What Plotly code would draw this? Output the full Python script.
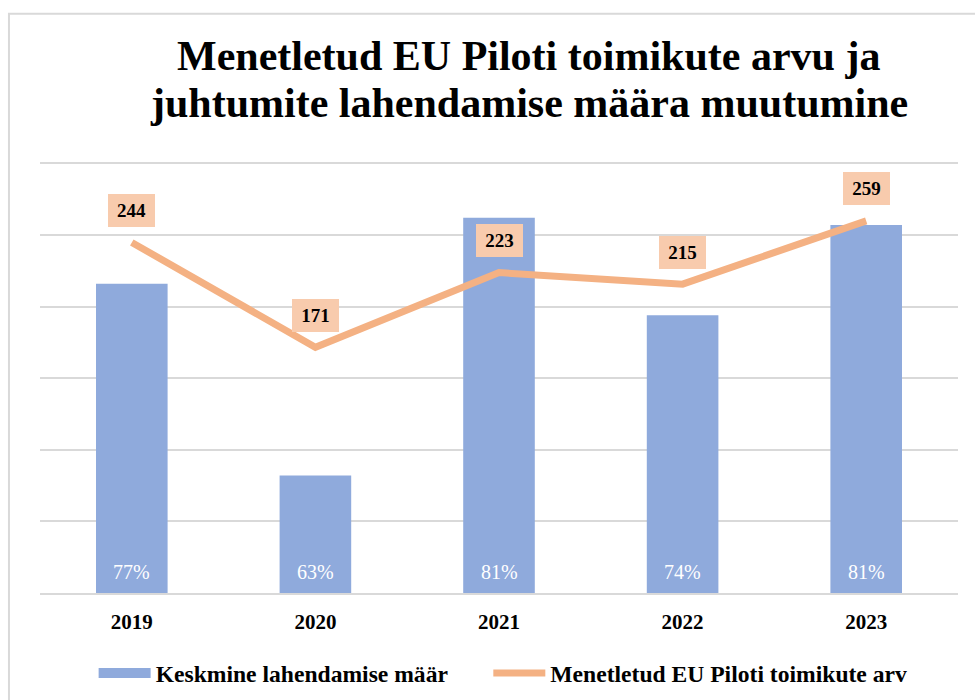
import plotly.graph_objects as go

years = ["2019", "2020", "2021", "2022", "2023"]
resolution_rate = [76.6, 63.2, 81.2, 74.4, 80.7]   # Keskmine lahendamise määr (%)
case_counts = [244, 171, 223, 215, 259]            # Menetletud EU Piloti toimikute arv
title_lines = ["Menetletud EU Piloti toimikute arvu ja",
               "juhtumite lahendamise määra muutumine"]

FONT = "Liberation Serif"
BAR_COLOR = "#8FAADC"
LINE_COLOR = "#F4B183"
LABEL_BG = "#F8CBAD"
GRID = "#D9D9D9"

fig = go.Figure()
fig.add_trace(go.Bar(
    x=years, y=resolution_rate, name="Keskmine lahendamise määr",
    marker=dict(color=BAR_COLOR, line=dict(width=0)),
    width=0.39, showlegend=False,
))
# legend entry for bars drawn as a wide swatch (no data)
fig.add_trace(go.Scatter(
    x=[None], y=[None], name="<b>Keskmine lahendamise määr</b>&nbsp;&nbsp;&nbsp;&nbsp;&nbsp;&nbsp;",
    mode="lines", line=dict(color=BAR_COLOR, width=12), showlegend=True,
))
fig.add_trace(go.Scatter(
    x=years, y=case_counts, name="<b>Menetletud EU Piloti toimikute arv</b>",
    mode="lines", line=dict(color=LINE_COLOR, width=7), yaxis="y2",
))

# percentage labels at the base of each bar
for i, r in enumerate(resolution_rate):
    fig.add_annotation(
        x=i, y=0, xref="x", yref="paper", text=f"{r:.0f}%", showarrow=False,
        yanchor="middle", yshift=21,
        font=dict(family=FONT, size=20, color="white"),
    )

for i, v in enumerate(case_counts):
    fig.add_annotation(
        x=i, y=v, xref="x", yref="y2", text=f"<b>{v}</b>", showarrow=False,
        yshift=32, bgcolor=LABEL_BG, width=45, height=31, borderpad=1, borderwidth=0,
        font=dict(family=FONT, size=19, color="black"),
    )

# two-line title
for line, ypos in zip(title_lines, [1.2465, 1.1375]):
    fig.add_annotation(
        x=0.5325, y=ypos, xref="paper", yref="paper", text=f"<b>{line}</b>",
        showarrow=False, xanchor="center", yanchor="middle",
        font=dict(family=FONT, size=42, color="black"),
    )

# outer chart border
fig.add_shape(type="rect", xref="paper", yref="paper",
              x0=-0.0338, y0=-0.3, x1=1.2, y1=1.344,
              line=dict(color=GRID, width=2), fillcolor="rgba(0,0,0,0)", layer="below")

fig.update_layout(
    width=975, height=700,
    margin=dict(l=40, r=17, t=161.5, b=107, autoexpand=False),
    paper_bgcolor="white", plot_bgcolor="white",
    showlegend=True,
    legend=dict(orientation="h", x=0.5045, xanchor="center", y=-0.186, yanchor="middle",
                font=dict(family=FONT, size=23.6, color="black"),
                traceorder="normal", itemwidth=52),
    xaxis=dict(type="category", range=[-0.5, 4.5], showgrid=False, showline=True,
               linecolor=GRID, linewidth=2, ticklabelstandoff=9, automargin=False,
               tickfont=dict(family=FONT, size=21, color="black"), ticks="",
               tickprefix="<b>", ticksuffix="</b>"),
    yaxis=dict(range=[55, 85.1], tickvals=[55, 60, 65, 70, 75, 80, 85], showgrid=True,
               gridcolor=GRID, gridwidth=2, showticklabels=False, zeroline=False,
               automargin=False),
    yaxis2=dict(range=[0, 300], overlaying="y", side="right", showgrid=False,
                showticklabels=False, zeroline=False, automargin=False),
)

fig.write_html("out.html", post_script="document.body.style.margin='0px';",
               config={"displayModeBar": False})
